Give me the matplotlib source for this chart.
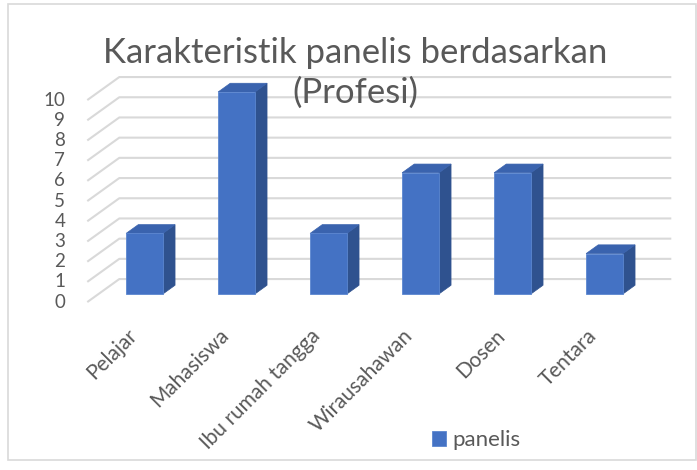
import numpy as np
import matplotlib.pyplot as plt
from matplotlib.patches import Polygon

plt.rcParams['font.family'] = ['Lato', 'DejaVu Sans']

# data
categories = ['Pelajar', 'Mahasiswa', 'Ibu rumah tangga', 'Wirausahawan', 'Dosen', 'Tentara']
panelis = [3, 10, 3, 6, 6, 2]
y_ticks = list(range(0, 11))
title = 'Karakteristik panelis berdasarkan\n(Profesi)'

# warna
FRONT = '#4472C4'
SIDE = '#2F528F'
TOP = '#3A63AE'
GRID = '#D9D9D9'
TEXT = '#595959'

W, H = 697, 470
fig = plt.figure(figsize=(W / 100, H / 100), dpi=100)
ax = fig.add_axes([0, 0, 1, 1])

# skala sumbu: 1 kategori = 92 px, 1 satuan nilai = 20.2 px
cat_px, unit_px = 92.0, 20.2
x0_px, y0_px = 144.5, 294.0
ax.set_xlim(-x0_px / cat_px, (W - x0_px) / cat_px)
ax.set_ylim((y0_px - H) / unit_px, y0_px / unit_px)
ax.axis('off')

# vektor kedalaman (efek 3D), dalam satuan data
back = np.array([0.226, 0.74])     # dinding belakang
front = np.array([-0.122, -0.40])  # bidang label sumbu y
bar_d = np.array([0.132, 0.433])   # tebal batang
bw = 0.4
n = len(categories)

# garis grid: dinding samping (diagonal) + dinding belakang
for v in y_ticks:
    xf, yf = -0.5 + front[0], v + front[1]
    xb, yb = -0.5 + back[0], v + back[1]
    ax.plot([xf, xb, n - 0.5 + back[0]], [yf, yb, yb], color=GRID, lw=1.5, zorder=1,
            solid_capstyle='butt')
    ax.text(xf - 0.24, yf, str(v), ha='right', va='center', fontsize=13.5, color=TEXT)

# batang
x = np.arange(n)
bars = ax.bar(x, panelis, width=bw, color=FRONT, edgecolor='#5B86D0', linewidth=0.6,
              zorder=3, label='panelis')
for xi, v in zip(x, panelis):
    r, l = xi + bw / 2, xi - bw / 2
    side = [(r, 0), (r + bar_d[0], bar_d[1]), (r + bar_d[0], v + bar_d[1]), (r, v)]
    top = [(l, v), (r, v), (r + bar_d[0], v + bar_d[1]), (l + bar_d[0], v + bar_d[1])]
    ax.add_patch(Polygon(side, closed=True, facecolor=SIDE, edgecolor=SIDE, lw=0.5, zorder=2.9))
    ax.add_patch(Polygon(top, closed=True, facecolor=TOP, edgecolor=TOP, lw=0.5, zorder=2.9))

# label kategori
for xi, c in zip(x, categories):
    ax.text(xi - 0.12, -1.9, c, rotation=45, rotation_mode='anchor',
            ha='right', va='center', fontsize=15, color=TEXT)

# judul
fig.text(355 / W, 1 - 73 / H, title, ha='center', va='center', fontsize=25,
         color=TEXT, linespacing=1.28)

# legenda
fig.legend(handles=[bars], loc='center left', bbox_to_anchor=(432 / W, 1 - 440 / H),
           frameon=False, fontsize=16, handlelength=0.65, handleheight=0.65,
           handletextpad=0.25, borderpad=0, borderaxespad=0, labelcolor=TEXT)

# bingkai
ax.add_patch(plt.Rectangle((8 / W, 10 / H), 688 / W, 456 / H, transform=fig.transFigure,
                           fill=False, edgecolor=GRID, lw=1.2, zorder=0))

fig.savefig('out.png', dpi=100)
